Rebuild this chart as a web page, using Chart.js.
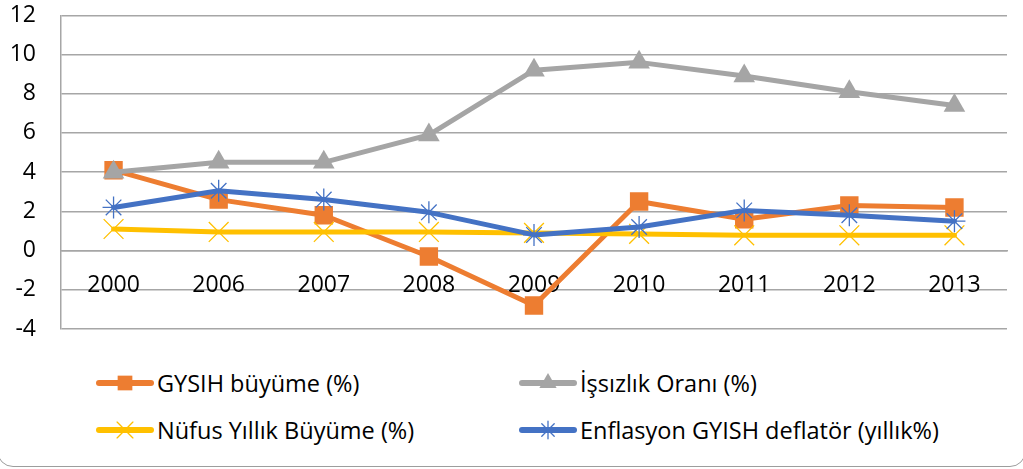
<!DOCTYPE html>
<html>
<head>
<meta charset="utf-8">
<script src="https://cdn.jsdelivr.net/npm/chart.js@4/dist/chart.umd.min.js"></script>
<style>
  body { margin: 0; background: #fff; }
  #wrap { position: relative; width: 1023px; height: 469px; overflow: hidden; font-family: "Open Sans", sans-serif; }
  #frame { position: absolute; left: -3px; right: -3px; top: -30px; bottom: 2px; border: 1.5px solid #9d9d9d; border-radius: 16px; }
  #chartBox { position: absolute; left: 0; top: 0; width: 1023px; height: 345px; }
  .item { position: absolute; height: 26px; display: flex; align-items: center; font-size: 23.5px; color: #000; white-space: nowrap; }
  .item canvas { margin-right: 2px; }
</style>
</head>
<body>
<div id="wrap">
  <div id="frame"></div>
  <div id="chartBox"><canvas id="chart"></canvas></div>
  <div id="legend"></div>
</div>
<script>
const years = ["2000", "2006", "2007", "2008", "2009", "2010", "2011", "2012", "2013"];
const gsyihBuyume = [4.1, 2.6, 1.8, -0.3, -2.8, 2.5, 1.6, 2.3, 2.2];
const issizlikOrani = [4.0, 4.5, 4.5, 5.9, 9.2, 9.6, 8.9, 8.1, 7.4];
const nufusBuyume = [1.1, 0.95, 0.95, 0.95, 0.9, 0.85, 0.78, 0.78, 0.78];
const enflasyon = [2.2, 3.05, 2.6, 1.95, 0.8, 1.2, 2.05, 1.8, 1.5];
const yTicks = [-4, -2, 0, 2, 4, 6, 8, 10, 12];

const gridColor = "#a6a6a6";

function series(label, data, color, style, radius, order) {
  const filled = style === "rect" || style === "triangle";
  return {
    label: label,
    data: data,
    borderColor: color,
    backgroundColor: color,
    borderWidth: 5,
    borderJoinStyle: "round",
    borderCapStyle: "round",
    pointStyle: style,
    pointRadius: radius,
    pointHoverRadius: radius,
    pointBackgroundColor: color,
    pointBorderColor: color,
    pointBorderWidth: filled ? 0 : 1.3,
    tension: 0,
    order: order
  };
}

const datasets = [
  series("GYSIH büyüme (%)", gsyihBuyume, "#ED7D31", "rect", 13, 4),
  series("İşsızlık Oranı (%)", issizlikOrani, "#A5A5A5", "triangle", 12.5, 3),
  series("Nüfus Yıllık Büyüme (%)", nufusBuyume, "#FFC000", "crossRot", 14, 2),
  series("Enflasyon GYISH deflatör (yıllık%)", enflasyon, "#4472C4", "star", 11, 1)
];

new Chart(document.getElementById("chart"), {
  type: "line",
  data: { labels: years, datasets: datasets },
  options: {
    responsive: true,
    maintainAspectRatio: false,
    animation: false,
    layout: { padding: { left: 12, right: 16, top: 15, bottom: 16 } },
    plugins: { legend: { display: false }, tooltip: { enabled: false } },
    scales: {
      x: {
        position: { y: 0 },
        offset: true,
        grid: { display: false, drawTicks: false },
        border: { display: true, color: gridColor, width: 1.5 },
        ticks: { color: "#000", padding: 21, font: { family: "Open Sans", size: 23 } },
        afterFit: function(scale) {
          scale.paddingLeft = scale.paddingRight = scale.paddingTop = scale.paddingBottom = 0;
        }
      },
      y: {
        min: -4,
        max: 12,
        afterBuildTicks: function(axis) {
          axis.ticks = yTicks.map(v => ({ value: v }));
        },
        grid: { color: gridColor, lineWidth: 1.5, drawTicks: false },
        border: { display: true, color: gridColor, width: 1.5 },
        ticks: { color: "#000", padding: 25, font: { family: "Open Sans", size: 23 } },
        afterFit: function(scale) {
          scale.width = 49;
          scale.paddingTop = scale.paddingBottom = 0;
        }
      }
    }
  }
});

// Legend in two columns, like the original
const legendPos = [
  { left: 95, top: 383 },
  { left: 518, top: 383 },
  { left: 95, top: 430 },
  { left: 518, top: 430 }
];
const legendEl = document.getElementById("legend");
datasets.forEach((ds, i) => {
  const item = document.createElement("div");
  item.className = "item";
  item.style.left = legendPos[i].left + "px";
  item.style.top = (legendPos[i].top - 13) + "px";
  const c = document.createElement("canvas");
  c.width = 60; c.height = 26;
  const ctx = c.getContext("2d");
  ctx.strokeStyle = ds.borderColor;
  ctx.lineWidth = 6;
  ctx.lineCap = "round";
  ctx.beginPath();
  ctx.moveTo(4, 13);
  ctx.lineTo(56, 13);
  ctx.stroke();
  ctx.fillStyle = ds.pointBackgroundColor;
  ctx.strokeStyle = ds.pointBorderColor;
  ctx.lineWidth = ds.pointBorderWidth;
  const r = ds.pointRadius * 0.8;
  if (Chart.helpers && Chart.helpers.drawPoint) {
    Chart.helpers.drawPoint(ctx, { pointStyle: ds.pointStyle, rotation: 0, radius: r, borderWidth: ds.pointBorderWidth }, 30, 13);
  } else {
    ctx.fillRect(30 - r * 0.7, 13 - r * 0.7, r * 1.4, r * 1.4);
  }
  const span = document.createElement("span");
  span.textContent = ds.label;
  item.appendChild(c);
  item.appendChild(span);
  legendEl.appendChild(item);
});
</script>
</body>
</html>
